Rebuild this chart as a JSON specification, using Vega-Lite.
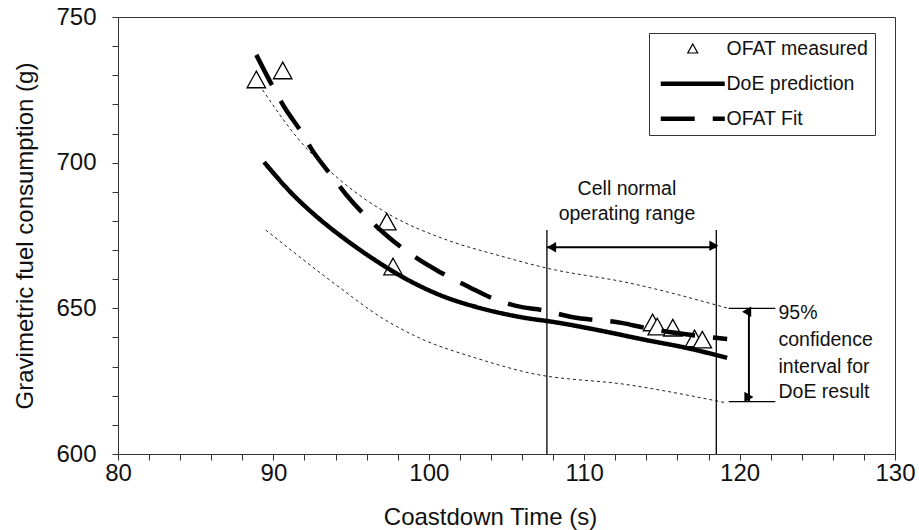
{
  "$schema": "https://vega.github.io/schema/vega-lite/v6.json",
  "width": 777,
  "height": 437,
  "autosize": {"type": "none"},
  "padding": {"left": 118, "top": 17, "right": 24, "bottom": 76},
  "background": "white",
  "config": {
    "font": "Liberation Sans",
    "view": {"stroke": "#333", "strokeWidth": 1},
    "axis": {
      "grid": false,
      "domainColor": "#333",
      "tickColor": "#333",
      "labelColor": "#111",
      "titleColor": "#111",
      "labelFont": "Liberation Sans",
      "titleFont": "Liberation Sans",
      "titleFontWeight": "normal",
      "labelFontSize": 24,
      "titleFontSize": 24,
      "tickSize": 6
    }
  },
  "datasets": {
    "curves": [
      {"series": "DoE prediction", "x": 89.4, "y": 700.2},
      {"series": "DoE prediction", "x": 91.1, "y": 689.9},
      {"series": "DoE prediction", "x": 93.0, "y": 680.5},
      {"series": "DoE prediction", "x": 94.7, "y": 673.4},
      {"series": "DoE prediction", "x": 96.7, "y": 666.0},
      {"series": "DoE prediction", "x": 98.1, "y": 661.4},
      {"series": "DoE prediction", "x": 100.7, "y": 654.6},
      {"series": "DoE prediction", "x": 103.3, "y": 650.1},
      {"series": "DoE prediction", "x": 105.9, "y": 647.0},
      {"series": "DoE prediction", "x": 108.4, "y": 645.0},
      {"series": "DoE prediction", "x": 111.0, "y": 642.4},
      {"series": "DoE prediction", "x": 114.0, "y": 639.1},
      {"series": "DoE prediction", "x": 116.6, "y": 636.4},
      {"series": "DoE prediction", "x": 119.2, "y": 633.0},
      {"series": "OFAT Fit", "x": 88.9, "y": 737.0},
      {"series": "OFAT Fit", "x": 89.9, "y": 726.7},
      {"series": "OFAT Fit", "x": 90.7, "y": 719.1},
      {"series": "OFAT Fit", "x": 91.8, "y": 710.5},
      {"series": "OFAT Fit", "x": 92.5, "y": 704.3},
      {"series": "OFAT Fit", "x": 93.8, "y": 695.1},
      {"series": "OFAT Fit", "x": 94.7, "y": 688.9},
      {"series": "OFAT Fit", "x": 96.2, "y": 680.3},
      {"series": "OFAT Fit", "x": 97.4, "y": 674.5},
      {"series": "OFAT Fit", "x": 99.4, "y": 666.6},
      {"series": "OFAT Fit", "x": 100.7, "y": 662.5},
      {"series": "OFAT Fit", "x": 102.7, "y": 657.0},
      {"series": "OFAT Fit", "x": 103.9, "y": 653.9},
      {"series": "OFAT Fit", "x": 106.0, "y": 650.4},
      {"series": "OFAT Fit", "x": 107.3, "y": 649.4},
      {"series": "OFAT Fit", "x": 109.2, "y": 647.0},
      {"series": "OFAT Fit", "x": 112.4, "y": 645.0},
      {"series": "OFAT Fit", "x": 114.0, "y": 643.2},
      {"series": "OFAT Fit", "x": 119.2, "y": 639.5}
    ],
    "ci": [
      {"band": "upper", "x": 89.3, "y": 725.0},
      {"band": "upper", "x": 91.5, "y": 708.8},
      {"band": "upper", "x": 94.3, "y": 694.0},
      {"band": "upper", "x": 97.3, "y": 682.7},
      {"band": "upper", "x": 101.2, "y": 673.4},
      {"band": "upper", "x": 104.4, "y": 668.3},
      {"band": "upper", "x": 107.6, "y": 663.8},
      {"band": "upper", "x": 112.9, "y": 658.7},
      {"band": "upper", "x": 119.2, "y": 650.1},
      {"band": "lower", "x": 89.5, "y": 676.9},
      {"band": "lower", "x": 94.3, "y": 657.0},
      {"band": "lower", "x": 96.9, "y": 647.0},
      {"band": "lower", "x": 99.4, "y": 639.8},
      {"band": "lower", "x": 103.0, "y": 633.0},
      {"band": "lower", "x": 106.5, "y": 627.8},
      {"band": "lower", "x": 112.9, "y": 623.7},
      {"band": "lower", "x": 119.2, "y": 617.5}
    ],
    "measured": [
      {"series": "OFAT measured", "x": 88.9, "y": 728.4},
      {"series": "OFAT measured", "x": 90.6, "y": 731.5},
      {"series": "OFAT measured", "x": 97.3, "y": 679.6},
      {"series": "OFAT measured", "x": 97.7, "y": 664.2},
      {"series": "OFAT measured", "x": 114.4, "y": 645.0},
      {"series": "OFAT measured", "x": 114.7, "y": 643.6},
      {"series": "OFAT measured", "x": 115.7, "y": 643.2},
      {"series": "OFAT measured", "x": 117.1, "y": 639.5},
      {"series": "OFAT measured", "x": 117.6, "y": 639.1}
    ],
    "rangeLines": [
      {"x": 107.6, "x2": 107.6, "y": 600, "y2": 676.9},
      {"x": 118.5, "x2": 118.5, "y": 600, "y2": 676.9},
      {"x": 119.3, "x2": 122.3, "y": 650.0, "y2": 650.0},
      {"x": 119.3, "x2": 122.3, "y": 618.0, "y2": 618.0}
    ],
    "arrowLines": [
      {"x": 107.6, "x2": 118.5, "y": 671.0, "y2": 671.0},
      {"x": 120.6, "x2": 120.6, "y": 618.0, "y2": 650.0}
    ],
    "arrowHeads": [
      {"x": 107.9, "y": 671.0, "dir": "left"},
      {"x": 118.2, "y": 671.0, "dir": "right"},
      {"x": 120.6, "y": 648.4, "dir": "up"},
      {"x": 120.6, "y": 619.6, "dir": "down"}
    ],
    "rangeText": [
      {"line": "Cell normal", "x": 112.75, "y": 691.1},
      {"line": "operating range", "x": 112.75, "y": 682.4}
    ],
    "ciText": [
      {"line": "95%", "x": 122.5, "y": 648.4},
      {"line": "confidence", "x": 122.5, "y": 639.1},
      {"line": "interval for", "x": 122.5, "y": 629.9},
      {"line": "DoE result", "x": 122.5, "y": 621.3}
    ]
  },
  "encoding": {
    "x": {
      "field": "x", "type": "quantitative",
      "scale": {"domain": [80, 130], "nice": false, "zero": false},
      "axis": {
        "title": "Coastdown Time (s)",
        "values": [80, 82, 84, 86, 88, 90, 92, 94, 96, 98, 100, 102, 104, 106, 108, 110, 112, 114, 116, 118, 120, 122, 124, 126, 128, 130],
        "labelExpr": "datum.value % 10 === 0 ? datum.label : ''",
        "labelOverlap": false,
        "labelFlush": false,
        "labelBound": false,
        "labelPadding": 1,
        "titlePadding": 20,
        "titleX": 372
      }
    },
    "y": {
      "field": "y", "type": "quantitative",
      "scale": {"domain": [600, 750], "nice": false, "zero": false},
      "axis": {
        "title": "Gravimetric fuel consumption (g)",
        "values": [600, 610, 620, 630, 640, 650, 660, 670, 680, 690, 700, 710, 720, 730, 740, 750],
        "labelExpr": "datum.value % 50 === 0 ? datum.label : ''",
        "labelOverlap": false,
        "labelFlush": false,
        "labelBound": false,
        "labelPadding": 16,
        "titlePadding": 18
      }
    }
  },
  "layer": [
    {
      "data": {"name": "ci"},
      "mark": {"type": "line", "interpolate": "monotone", "color": "#222", "strokeWidth": 1, "strokeDash": [3, 3]},
      "encoding": {
        "detail": {"field": "band", "type": "nominal"}
      }
    },
    {
      "data": {"name": "measured"},
      "mark": {"type": "point", "size": 340, "filled": true, "fill": "white", "stroke": "black", "strokeWidth": 1.3, "opacity": 1},
      "encoding": {
        "shape": {
          "field": "series", "type": "nominal",
          "scale": {
            "domain": ["OFAT measured", "DoE prediction", "OFAT Fit"],
            "range": ["M0,-0.95L1,0.85L-1,0.85Z", "M-6.4,0L6.4,0", "M-6.4,0L6.4,0"]
          },
          "legend": {
            "title": null, "orient": "none", "legendX": 531, "legendY": 16, "padding": 6,
            "strokeColor": "#333", "fillColor": "white", "labelFont": "Liberation Sans",
            "labelFontSize": 19.5, "labelColor": "#111", "symbolSize": 100,
            "symbolOffset": 28, "labelOffset": 24, "rowPadding": 14
          }
        }
      }
    },
    {
      "data": {"name": "curves"},
      "mark": {"type": "line", "interpolate": "monotone", "color": "black"},
      "encoding": {
        "strokeDash": {
          "field": "series", "type": "nominal",
          "scale": {"domain": ["OFAT measured", "DoE prediction", "OFAT Fit"], "range": [[1, 0], [1, 0], [34, 18]]},
          "legend": {
            "title": null, "orient": "none", "legendX": 531, "legendY": 16, "padding": 6,
            "strokeColor": "#333", "fillColor": "white", "labelFont": "Liberation Sans",
            "labelFontSize": 19.5, "labelColor": "#111", "symbolSize": 100,
            "symbolOffset": 28, "labelOffset": 24, "rowPadding": 14
          }
        },
        "strokeWidth": {
          "field": "series", "type": "nominal",
          "scale": {"type": "ordinal", "domain": ["OFAT measured", "DoE prediction", "OFAT Fit"], "range": [1.2, 4.5, 4.5]},
          "legend": {
            "title": null, "orient": "none", "legendX": 531, "legendY": 16, "padding": 6,
            "strokeColor": "#333", "fillColor": "white", "labelFont": "Liberation Sans",
            "labelFontSize": 19.5, "labelColor": "#111", "symbolSize": 100,
            "symbolOffset": 28, "labelOffset": 24, "rowPadding": 14
          }
        }
      }
    },
    {
      "data": {"name": "rangeLines"},
      "mark": {"type": "rule", "color": "black", "strokeWidth": 1.3},
      "encoding": {
        "x2": {"field": "x2"},
        "y2": {"field": "y2"}
      }
    },
    {
      "data": {"name": "arrowLines"},
      "mark": {"type": "rule", "color": "black", "strokeWidth": 2},
      "encoding": {
        "x2": {"field": "x2"},
        "y2": {"field": "y2"}
      }
    },
    {
      "data": {"name": "arrowHeads"},
      "mark": {"type": "point", "filled": true, "color": "black", "size": 110, "opacity": 1, "shape": "triangle-up"},
      "encoding": {
        "angle": {
          "field": "dir", "type": "nominal",
          "scale": {"domain": ["left", "right", "up", "down"], "range": [270, 90, 0, 180]},
          "legend": null
        }
      }
    },
    {
      "data": {"name": "rangeText"},
      "mark": {"type": "text", "align": "center", "baseline": "middle", "fontSize": 19.5, "font": "Liberation Sans", "color": "#111"},
      "encoding": {
        "text": {"field": "line", "type": "nominal"}
      }
    },
    {
      "data": {"name": "ciText"},
      "mark": {"type": "text", "align": "left", "baseline": "middle", "fontSize": 19.5, "font": "Liberation Sans", "color": "#111"},
      "encoding": {
        "text": {"field": "line", "type": "nominal"}
      }
    }
  ]
}
